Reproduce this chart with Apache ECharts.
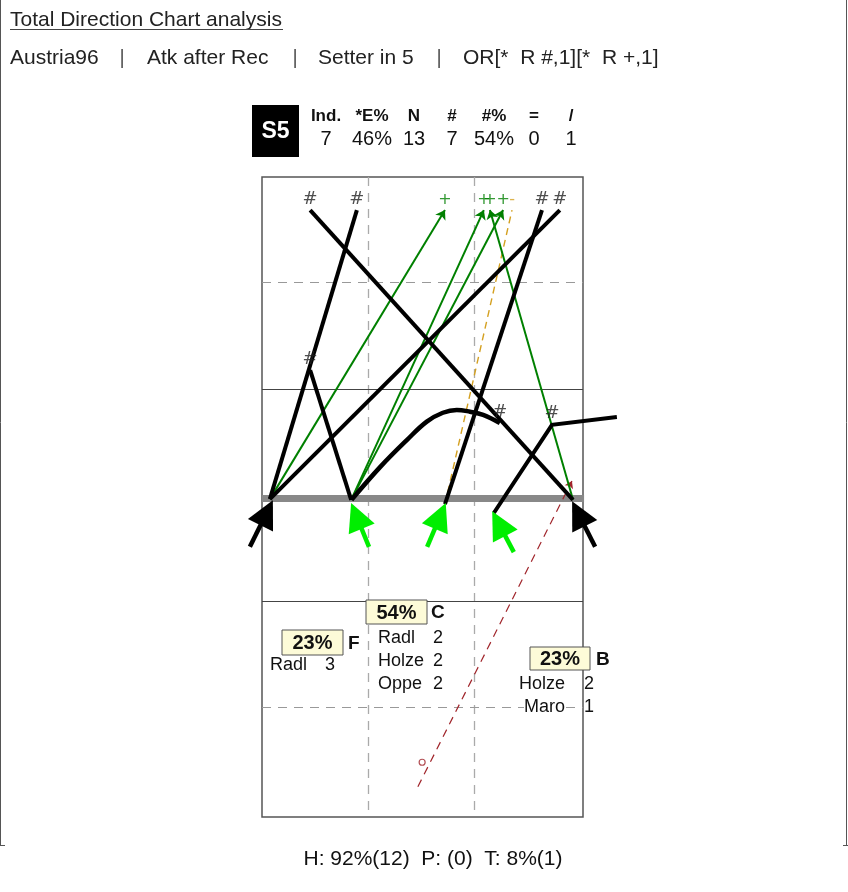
<!DOCTYPE html>
<html>
<head>
<meta charset="utf-8">
<script src="https://cdn.jsdelivr.net/npm/echarts@6/dist/echarts.min.js"></script>
<style>
html, body { margin: 0; padding: 0; background: #fff; }
#main { width: 848px; height: 892px; }
</style>
</head>
<body>
<div id="main"></div>
<script>
// court in metres: x 0..9, y 0 (far baseline) .. 18 (near baseline), net at 9
const origins = [[0.22, 9.06], [2.50, 9.08], [5.13, 9.20], [6.50, 9.45], [8.72, 9.08]];

// '#' attacks: index of origin + end point
const killFrom = [0, 1, 0, 2, 4];
const killTo = [[2.66, 0.93], [1.35, 5.43], [8.35, 0.93], [7.85, 0.93], [1.35, 0.93]];
// '+' attacks
const plusFrom = [0, 1, 4, 1];
const plusTo = [[5.13, 0.93], [6.22, 0.93], [6.39, 0.93], [6.76, 0.93]];
// '-' attack
const minusFrom = [2];
const minusTo = [[7.01, 0.93]];
// tip from origin 1, ends '#'
const tipCurve = [[2.51, 9.08], [3.31, 8.16], [4.06, 7.40], [4.62, 6.88], [5.07, 6.63],
  [5.46, 6.55], [5.83, 6.60], [6.20, 6.69], [6.67, 6.92]];
// attack from origin 3, '#' then deflected out
const deflectPath = [[6.50, 9.45], [8.13, 6.97], [9.95, 6.75]];
// serve
const serveLine = [[4.37, 17.15], [8.69, 8.55]];
const serveStart = [4.49, 16.46];
// set arrows into the attack spots
const setTails = [[-0.34, 10.40], [3.00, 10.40], [4.63, 10.40], [7.06, 10.55], [9.34, 10.40]];
const setTips = [[0.28, 9.14], [2.52, 9.22], [5.13, 9.22], [6.48, 9.45], [8.72, 9.17]];
const setGood = [false, true, true, true, false];

const statHeads = ['Ind.', '*E%', 'N', '#', '#%', '=', '/'];
const statValues = ['7', '46%', '13', '7', '54%', '0', '1'];

const zoneNames = ['F', 'C', 'B'];
const zonePct = ['23%', '54%', '23%'];
const zonePlayers = [['Radl'], ['Radl', 'Holze', 'Oppe'], ['Holze', 'Maro']];
const zoneCounts = [[3], [2, 2, 2], [2, 1]];

const titleText = 'Total Direction Chart analysis';
const filterParts = ['Austria96', 'Atk after Rec', 'Setter in 5', 'OR[*  R #,1][*  R +,1]'];
const footerText = 'H: 92%(12)  P: (0)  T: 8%(1)';

const FONT = "'Liberation Sans', Arial, sans-serif";
const PX = 35.6; // px per metre, roughly

var chart = echarts.init(document.getElementById('main'), null, { renderer: 'canvas' });

function seg(a, b) { return { coords: [a, b] }; }
function courtLines(data, style) {
  style.opacity = 1;
  return { type: 'lines', coordinateSystem: 'cartesian2d', silent: true, clip: false,
    symbol: 'none', lineStyle: style, data: data, z: 1 };
}
// pull the line end back so the centred triangle ends on the tip
function headCenter(tail, tip, px) {
  var dx = tip[0] - tail[0], dy = tip[1] - tail[1];
  var k = px / PX / Math.hypot(dx, dy);
  return [tip[0] - dx * k, tip[1] - dy * k];
}
function markSeries(points, labels, color, font, size) {
  return {
    type: 'scatter', symbol: 'circle', symbolSize: 0.1, silent: true, z: 6,
    itemStyle: { color: 'rgba(0,0,0,0)' },
    data: points.map(function (p, i) { return [p[0], p[1], labels[i]]; }),
    label: { show: true, position: 'top', distance: 2, color: color,
      fontFamily: font, fontSize: size, formatter: function (p) { return p.value[2]; } }
  };
}

var series = [
  courtLines([seg([2.97, 0], [2.97, 18]), seg([5.94, 0], [5.94, 18])],
    { color: '#aaaaaa', width: 1.3, type: [9, 7] }),
  courtLines([seg([0, 2.96], [9, 2.96]), seg([0, 14.9], [9, 14.9])],
    { color: '#999999', width: 1, type: [9, 7] }),
  courtLines([seg([0, 5.96], [9, 5.96]), seg([0, 11.92], [9, 11.92])],
    { color: '#444444', width: 1.2 }),
  courtLines([seg([0, 9.03], [9.03, 9.03])], { color: '#888888', width: 7 }),
  {
    type: 'lines', coordinateSystem: 'cartesian2d', clip: false, z: 3,
    symbol: ['none', 'arrow'], symbolSize: 7,
    lineStyle: { color: '#a0242a', width: 1.2, type: [8, 6], opacity: 1 },
    data: [{ coords: serveLine }]
  },
  {
    type: 'scatter', z: 4, symbol: 'circle', symbolSize: 6,
    itemStyle: { color: '#fff', borderColor: '#a0242a', borderWidth: 1.2 },
    data: [serveStart]
  },
  {
    type: 'lines', coordinateSystem: 'cartesian2d', clip: false, z: 3,
    symbol: 'none',
    lineStyle: { color: '#d4a020', width: 1.4, type: [7, 5], opacity: 1 },
    data: minusFrom.map(function (o, i) { return seg(origins[o], minusTo[i]); })
  },
  {
    type: 'lines', coordinateSystem: 'cartesian2d', clip: false, z: 4,
    symbol: ['none', 'arrow'], symbolSize: 9,
    lineStyle: { color: '#008000', width: 2, opacity: 1 },
    data: plusFrom.map(function (o, i) { return seg(origins[o], plusTo[i]); })
  },
  {
    type: 'lines', coordinateSystem: 'cartesian2d', clip: false, z: 5,
    symbol: 'none',
    lineStyle: { color: '#000', width: 4, opacity: 1 },
    data: killFrom.map(function (o, i) { return seg(origins[o], killTo[i]); })
  },
  {
    type: 'lines', coordinateSystem: 'cartesian2d', clip: false, z: 5, polyline: true,
    symbol: 'none',
    lineStyle: { color: '#000', width: 4, opacity: 1 },
    data: [{ coords: deflectPath }]
  },
  {
    type: 'line', z: 5, smooth: 0.4, showSymbol: false, clip: false,
    lineStyle: { color: '#000', width: 4.5 },
    data: tipCurve
  },
  {
    type: 'lines', coordinateSystem: 'cartesian2d', clip: false, z: 6,
    symbol: ['none', 'triangle'], symbolSize: 28,
    lineStyle: { color: '#000', width: 4.5, opacity: 1 },
    data: setTails.map(function (t, i) {
      return { coords: [t, headCenter(t, setTips[i], 12)],
        lineStyle: { color: setGood[i] ? '#00ee00' : '#000', opacity: 1 } };
    })
  },
  markSeries(killTo.concat([tipCurve[tipCurve.length - 1], deflectPath[1]]),
    ['#', '#', '#', '#', '#', '#', '#'], '#222', "'DejaVu Sans', sans-serif", 18),
  markSeries(plusTo, plusTo.map(function () { return '+'; }), '#008000', "'DejaVu Sans', sans-serif", 16),
  markSeries(minusTo, ['-'], '#d4a020', "'DejaVu Sans', sans-serif", 16)
];

// page texts and boxes
function txt(x, y, s, size, opts) {
  opts = opts || {};
  return {
    type: 'text', x: x, y: y, z: 10, silent: true,
    style: {
      text: s, font: (opts.bold ? 'bold ' : '') + size + 'px ' + FONT,
      fill: opts.color || '#111', textAlign: opts.align || 'left', align: opts.align || 'left',
      textVerticalAlign: 'middle', verticalAlign: 'middle',
      backgroundColor: opts.bg
    }
  };
}
function hline(x1, y1, x2, y2, color, w) {
  return { type: 'line', z: 10, silent: true, shape: { x1: x1, y1: y1, x2: x2, y2: y2 },
    style: { stroke: color, lineWidth: w } };
}

var graphics = [];
// page frame
graphics.push(hline(0.5, 0, 0.5, 845, '#555', 1));
graphics.push(hline(846.5, 0, 846.5, 845, '#555', 1));
graphics.push(hline(0, 845.5, 5, 845.5, '#555', 1));
graphics.push(hline(843, 845.5, 848, 845.5, '#555', 1));

graphics.push(txt(10, 20, titleText, 21, { color: '#222' }));
graphics.push(hline(10, 29.5, 283, 29.5, '#444', 1));

var filterX = [10, 147, 318, 463];
var pipeX = [122, 295, 439];
filterParts.forEach(function (s, i) { graphics.push(txt(filterX[i], 58, s, 21, { color: '#222' })); });
pipeX.forEach(function (x) { graphics.push(txt(x, 58, '|', 20, { color: '#555', align: 'center' })); });

// setter badge + stats
graphics.push({ type: 'rect', z: 10, silent: true, shape: { x: 252, y: 105, width: 47, height: 52 },
  style: { fill: '#000' } });
graphics.push(txt(275.5, 132, 'S5', 23, { bold: true, color: '#fff', align: 'center' }));
var statX = [326, 372, 414, 452, 494, 534, 571];
statHeads.forEach(function (s, i) { graphics.push(txt(statX[i], 116, s, 17, { bold: true, align: 'center' })); });
statValues.forEach(function (s, i) { graphics.push(txt(statX[i], 139, s, 20, { align: 'center' })); });

// zone summaries
var zoneBox = [[282, 630, 61, 25], [366, 600, 61, 24], [530, 647, 60, 23]];
var zoneLetterX = [348, 431, 596];
var nameX = [270, 378, 565];
var nameAlign = ['left', 'left', 'right'];
var countX = [330, 438, 589];
var rowY = [[665], [638, 661, 684], [684, 707]];
zonePct.forEach(function (p, i) {
  var b = zoneBox[i];
  graphics.push({ type: 'rect', z: 10, silent: true,
    shape: { x: b[0], y: b[1], width: b[2], height: b[3] },
    style: { fill: '#fdfbd8', stroke: '#555', lineWidth: 1 } });
  graphics.push(txt(b[0] + b[2] / 2, b[1] + b[3] / 2 + 1, p, 20, { bold: true, align: 'center' }));
  graphics.push(txt(zoneLetterX[i], b[1] + b[3] / 2 + 1, zoneNames[i], 19, { bold: true }));
  zonePlayers[i].forEach(function (n, j) {
    graphics.push(txt(nameX[i], rowY[i][j], n, 18, { align: nameAlign[i], bg: '#fff' }));
    graphics.push(txt(countX[i], rowY[i][j], String(zoneCounts[i][j]), 18, { align: 'center', bg: '#fff' }));
  });
});

graphics.push(txt(433, 859, footerText, 21, { align: 'center', color: '#111' }));

chart.setOption({
  animation: false,
  backgroundColor: '#fff',
  grid: { left: 262, top: 177, width: 321, height: 640, show: true,
    borderColor: '#555', borderWidth: 1.5, backgroundColor: 'rgba(0,0,0,0)' },
  xAxis: { type: 'value', min: 0, max: 9, show: false },
  yAxis: { type: 'value', min: 0, max: 18, inverse: true, show: false },
  series: series,
  graphic: graphics
});
</script>
</body>
</html>
